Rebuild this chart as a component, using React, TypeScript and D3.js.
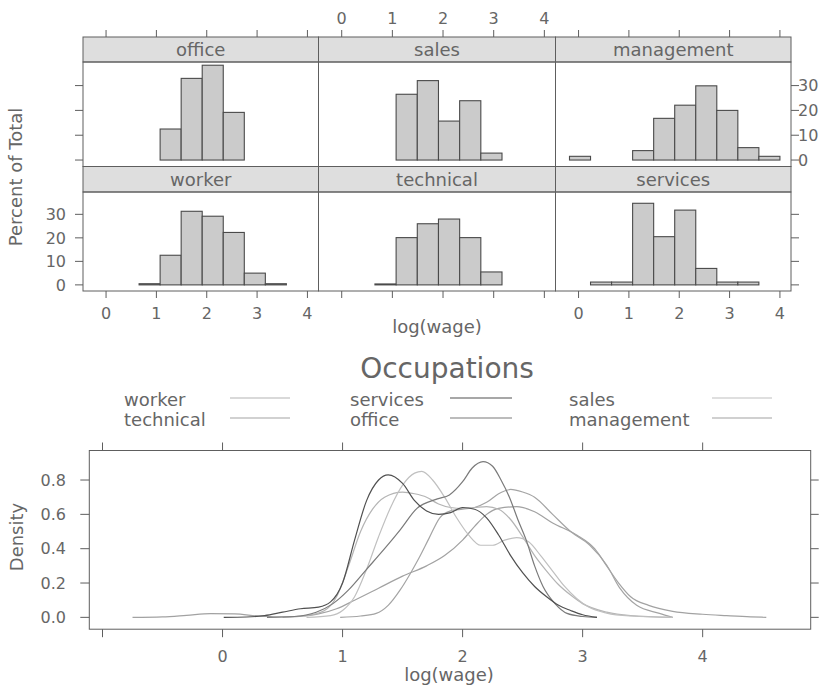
import * as d3 from 'd3';

// histogram bins (log wage), shared by all panels
const breaks = [-0.18, 0.238, 0.656, 1.074, 1.492, 1.91, 2.328, 2.746, 3.164, 3.582, 4.0];

const topRow = ['office', 'sales', 'management'];
const bottomRow = ['worker', 'technical', 'services'];

// percent of total per bin
const pctOffice = [0, 0, 0, 12.5, 32.9, 38.2, 19.2, 0, 0, 0];
const pctSales = [0, 0, 0, 26.5, 32.0, 15.7, 23.9, 2.8, 0, 0];
const pctManagement = [1.5, 0, 0, 3.8, 16.8, 22.1, 29.9, 20.0, 5.0, 1.5];
const pctWorker = [0, 0, 0.5, 12.6, 31.3, 29.2, 22.3, 5.0, 0.5, 0];
const pctTechnical = [0, 0, 0.4, 20.1, 26.0, 28.0, 20.1, 5.5, 0, 0];
const pctServices = [0, 1.2, 1.2, 34.7, 20.5, 31.8, 7.0, 1.2, 1.2, 0];

const histPct: Record<string, number[]> = {
    office: pctOffice, sales: pctSales, management: pctManagement,
    worker: pctWorker, technical: pctTechnical, services: pctServices,
};

const histXTicks = [0, 1, 2, 3, 4];
const histYTicks = [0, 10, 20, 30];

// density curves
const densWorker: [number, number][] = [
    [0.5, 0], [0.7, 0.01], [0.85, 0.04], [0.95, 0.12], [1.05, 0.3], [1.15, 0.5], [1.25, 0.63],
    [1.35, 0.7], [1.5, 0.73], [1.6, 0.72], [1.7, 0.7], [1.8, 0.66], [1.9, 0.64], [2.0, 0.635],
    [2.1, 0.64], [2.2, 0.645], [2.3, 0.63], [2.4, 0.57], [2.5, 0.47], [2.6, 0.36], [2.7, 0.27],
    [2.8, 0.19], [2.9, 0.13], [3.0, 0.08], [3.2, 0.03], [3.4, 0.01], [3.75, 0],
];
const densTechnical: [number, number][] = [
    [0.98, 0], [1.15, 0.008], [1.28, 0.023], [1.38, 0.07], [1.48, 0.16], [1.56, 0.25], [1.64, 0.35],
    [1.72, 0.46], [1.81, 0.58], [1.9, 0.62], [2.0, 0.63], [2.1, 0.64], [2.2, 0.67], [2.3, 0.72],
    [2.4, 0.745], [2.5, 0.73], [2.6, 0.7], [2.75, 0.6], [2.9, 0.5], [3.06, 0.42], [3.2, 0.305],
    [3.31, 0.17], [3.45, 0.07], [3.64, 0.023], [3.75, 0],
];
const densServices: [number, number][] = [
    [0.01, 0], [0.2, 0.002], [0.35, 0.01], [0.5, 0.03], [0.65, 0.05], [0.8, 0.06], [0.9, 0.09],
    [1.0, 0.2], [1.1, 0.45], [1.2, 0.68], [1.3, 0.8], [1.38, 0.83], [1.5, 0.78], [1.6, 0.68],
    [1.7, 0.62], [1.8, 0.6], [1.9, 0.61], [2.0, 0.64], [2.1, 0.63], [2.2, 0.58], [2.3, 0.48],
    [2.4, 0.36], [2.5, 0.26], [2.6, 0.18], [2.7, 0.12], [2.8, 0.07], [2.9, 0.04], [3.0, 0.015], [3.12, 0],
];
const densOffice: [number, number][] = [
    [0.37, 0], [0.6, 0.005], [0.78, 0.03], [0.92, 0.08], [1.05, 0.16], [1.2, 0.28], [1.35, 0.4],
    [1.48, 0.51], [1.62, 0.635], [1.79, 0.69], [1.89, 0.713], [2.0, 0.79], [2.08, 0.87], [2.17, 0.907],
    [2.25, 0.88], [2.32, 0.8], [2.39, 0.7], [2.46, 0.57], [2.53, 0.45], [2.6, 0.3], [2.67, 0.18],
    [2.77, 0.08], [2.87, 0.023], [3.0, 0.005], [3.12, 0],
];
const densSales: [number, number][] = [
    [0.7, 0], [0.9, 0.01], [1.0, 0.04], [1.1, 0.12], [1.2, 0.28], [1.3, 0.47], [1.4, 0.64],
    [1.5, 0.77], [1.6, 0.84], [1.66, 0.85], [1.75, 0.8], [1.85, 0.7], [1.95, 0.58], [2.05, 0.48],
    [2.15, 0.42], [2.25, 0.42], [2.35, 0.45], [2.45, 0.465], [2.55, 0.44], [2.65, 0.36], [2.75, 0.27],
    [2.85, 0.18], [2.95, 0.11], [3.05, 0.06], [3.2, 0.025], [3.4, 0.008], [3.75, 0],
];
const densManagement: [number, number][] = [
    [-0.75, 0], [-0.5, 0.003], [-0.3, 0.012], [-0.1, 0.022], [0.1, 0.02], [0.3, 0.008], [0.45, 0.003],
    [0.6, 0.005], [0.8, 0.02], [0.95, 0.05], [1.1, 0.1], [1.3, 0.17], [1.5, 0.24], [1.7, 0.3],
    [1.85, 0.36], [2.0, 0.45], [2.1, 0.53], [2.2, 0.6], [2.3, 0.635], [2.45, 0.645], [2.6, 0.615],
    [2.75, 0.55], [2.95, 0.48], [3.1, 0.4], [3.2, 0.3], [3.3, 0.2], [3.4, 0.12], [3.55, 0.07],
    [3.75, 0.035], [4.0, 0.018], [4.2, 0.01], [4.4, 0.003], [4.53, 0],
];

const legendCols = [['worker', 'technical'], ['services', 'office'], ['sales', 'management']];
const densXTicks = [-1, 0, 1, 2, 3, 4];
const densXLabels = ['', '0', '1', '2', '3', '4'];
const densYTicks = [0, 0.2, 0.4, 0.6, 0.8];

const curves: Record<string, [number, number][]> = {
    worker: densWorker, technical: densTechnical, services: densServices,
    office: densOffice, sales: densSales, management: densManagement,
};
const lineColor: Record<string, string> = {
    worker: '#b4b4b4', technical: '#a4a4a4', services: '#505050',
    office: '#7a7a7a', sales: '#c0c0c0', management: '#a2a2a2',
};

const FONT = "'DejaVu Sans', Verdana, sans-serif";
const TXT = '#666666';
const AX = '#5e5e5e';

const colEdges = [83, 318.5, 555.5, 791];
const rows = [
    { stripTop: 37, top: 62, bottom: 166.5 },
    { stripTop: 166.5, top: 192, bottom: 291 },
];

function HistPanel({ name, col, row }: { name: string; col: number; row: number }) {
    const r = rows[row];
    const x = d3.scaleLinear().domain([-0.458, 4.22]).range([colEdges[col], colEdges[col + 1]]);
    const y = d3.scaleLinear().domain([-2.6, 39.5]).range([r.bottom, r.top]);
    const pct = histPct[name];
    const x0 = colEdges[col], x1 = colEdges[col + 1];
    const tick = 7;
    return (
        <g>
            <rect x={x0} y={r.stripTop} width={x1 - x0} height={r.top - r.stripTop} fill="#dedede" stroke={AX} />
            <text x={(x0 + x1) / 2} y={(r.stripTop + r.top) / 2} dy="0.36em" textAnchor="middle"
                fontSize={18} fill={TXT} fontFamily={FONT}>{name}</text>
            {pct.map((p, i) => (
                <rect key={i} x={x(breaks[i])} y={y(p)} width={x(breaks[i + 1]) - x(breaks[i])}
                    height={Math.max(0, y(0) - y(p))} fill="#cbcbcb" stroke="#4a4a4a" strokeWidth={1.1} />
            ))}
            <rect x={x0} y={r.top} width={x1 - x0} height={r.bottom - r.top} fill="none" stroke={AX} />
            {/* top axis */}
            {row === 0 && histXTicks.map(t => (
                <g key={'t' + t}>
                    <line x1={x(t)} x2={x(t)} y1={r.stripTop} y2={r.stripTop - tick} stroke={AX} />
                    {col === 1 && <text x={x(t)} y={18} dy="0.36em" textAnchor="middle" fontSize={16}
                        fill={TXT} fontFamily={FONT}>{t}</text>}
                </g>
            ))}
            {/* bottom axis */}
            {row === 1 && histXTicks.map(t => (
                <g key={'b' + t}>
                    <line x1={x(t)} x2={x(t)} y1={r.bottom} y2={r.bottom + tick} stroke={AX} />
                    {col !== 1 && <text x={x(t)} y={313} dy="0.36em" textAnchor="middle" fontSize={16}
                        fill={TXT} fontFamily={FONT}>{t}</text>}
                </g>
            ))}
            {/* left axis */}
            {col === 0 && histYTicks.map(t => (
                <g key={'l' + t}>
                    <line x1={x0} x2={x0 - 8} y1={y(t)} y2={y(t)} stroke={AX} />
                    {row === 1 && <text x={66} y={y(t)} dy="0.36em" textAnchor="end" fontSize={16}
                        fill={TXT} fontFamily={FONT}>{t}</text>}
                </g>
            ))}
            {/* right axis */}
            {col === 2 && histYTicks.map(t => (
                <g key={'r' + t}>
                    <line x1={x1} x2={x1 + 8} y1={y(t)} y2={y(t)} stroke={AX} />
                    {row === 0 && <text x={798} y={y(t)} dy="0.36em" textAnchor="start" fontSize={16}
                        fill={TXT} fontFamily={FONT}>{t}</text>}
                </g>
            ))}
        </g>
    );
}

function DensityPlot() {
    const left = 89.3, right = 810.7, top = 450.5, bottom = 629.2;
    const x = d3.scaleLinear().domain([-1.11, 4.9]).range([left, right]);
    const y = d3.scaleLinear().domain([-0.069, 0.972]).range([bottom, top]);
    const line = d3.line<[number, number]>().x(d => x(d[0])).y(d => y(d[1])).curve(d3.curveMonotoneX);
    const order = ['management', 'technical', 'worker', 'sales', 'office', 'services'];
    return (
        <g>
            <rect x={left} y={top} width={right - left} height={bottom - top} fill="none" stroke={AX} />
            {order.map(k => (
                <path key={k} d={line(curves[k]) || ''} fill="none" stroke={lineColor[k]} strokeWidth={1.2} />
            ))}
            {densXTicks.map((t, i) => (
                <g key={'x' + t}>
                    <line x1={x(t)} x2={x(t)} y1={top} y2={top - 8} stroke={AX} />
                    <line x1={x(t)} x2={x(t)} y1={bottom} y2={bottom + 8} stroke={AX} />
                    <text x={x(t)} y={656} dy="0.36em" textAnchor="middle" fontSize={16} fill={TXT}
                        fontFamily={FONT}>{densXLabels[i]}</text>
                </g>
            ))}
            {densYTicks.map(t => (
                <g key={'y' + t}>
                    <line x1={left} x2={left - 9} y1={y(t)} y2={y(t)} stroke={AX} />
                    <line x1={right} x2={right + 8} y1={y(t)} y2={y(t)} stroke={AX} />
                    <text x={66} y={y(t)} dy="0.36em" textAnchor="end" fontSize={16} fill={TXT}
                        fontFamily={FONT}>{t.toFixed(1)}</text>
                </g>
            ))}
            <text x={449} y={675} dy="0.36em" textAnchor="middle" fontSize={18} fill={TXT} fontFamily={FONT}>log(wage)</text>
            <text transform="translate(17,537) rotate(-90)" dy="0.36em" textAnchor="middle" fontSize={18}
                fill={TXT} fontFamily={FONT}>Density</text>
        </g>
    );
}

function Legend() {
    const textX = [124, 350, 569];
    const lineX = [[230, 290], [450, 512], [712, 772]];
    const rowY = [400, 420];
    return (
        <g>
            <text x={447} y={368} dy="0.36em" textAnchor="middle" fontSize={28} fill={TXT} fontFamily={FONT}>Occupations</text>
            {legendCols.map((names, c) => names.map((n, r) => (
                <g key={n}>
                    <text x={textX[c]} y={rowY[r]} dy="0.36em" fontSize={18} fill={TXT} fontFamily={FONT}>{n}</text>
                    <line x1={lineX[c][0]} x2={lineX[c][1]} y1={rowY[r] - 2} y2={rowY[r] - 2}
                        stroke={lineColor[n]} strokeWidth={1.2} />
                </g>
            )))}
        </g>
    );
}

export default function App() {
    return (
        <svg width={829} height={694} style={{ position: 'absolute', left: 0, top: 0, background: '#fff' }}>
            <rect width={829} height={694} fill="#fff" />
            {topRow.map((n, i) => <HistPanel key={n} name={n} col={i} row={0} />)}
            {bottomRow.map((n, i) => <HistPanel key={n} name={n} col={i} row={1} />)}
            <text transform="translate(16,177) rotate(-90)" dy="0.36em" textAnchor="middle" fontSize={18}
                fill={TXT} fontFamily={FONT}>Percent of Total</text>
            <text x={437} y={327} dy="0.36em" textAnchor="middle" fontSize={18} fill={TXT} fontFamily={FONT}>log(wage)</text>
            <Legend />
            <DensityPlot />
        </svg>
    );
}
